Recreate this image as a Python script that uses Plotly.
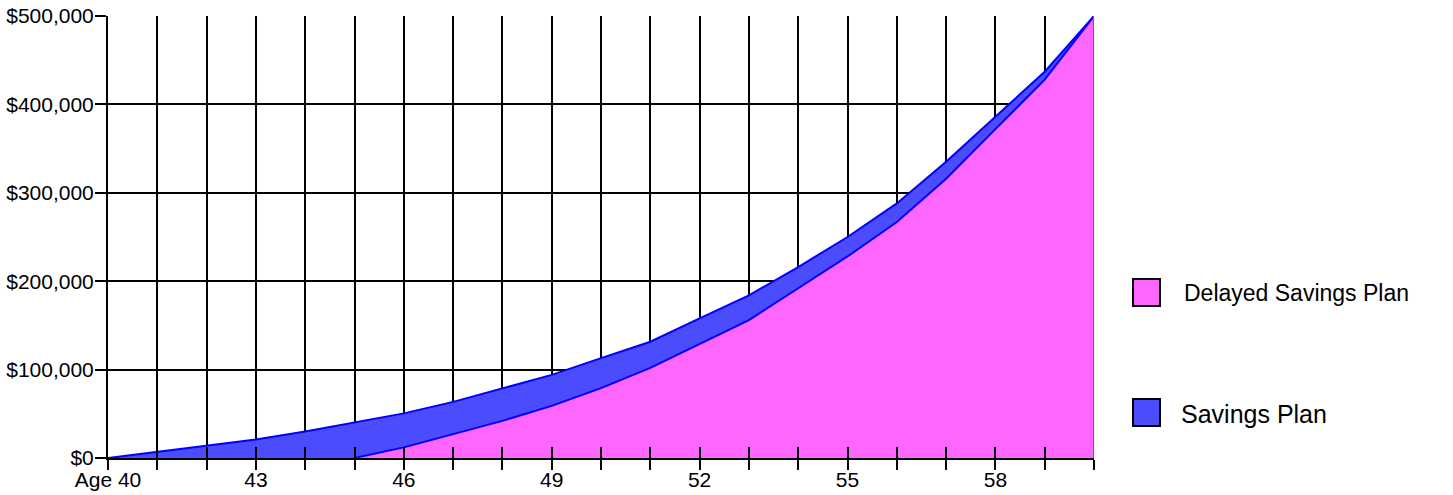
import plotly.graph_objects as go

ages = list(range(40, 61))
savings_plan = [0, 7000, 14500, 21000, 30000, 40000, 50500, 63500, 79000, 94000,
                113000, 131500, 158000, 184000, 216000, 250000, 288000, 335000,
                386000, 437000, 500000]
delayed_plan = [0, 0, 0, 0, 0, 0, 12000, 27000, 42000, 59000,
                79000, 102000, 129000, 156000, 192000, 228000, 267000, 316000,
                372000, 428000, 500000]
tick_ages = ages
tick_labels = ["Age 40" if a == 40 else (str(a) if (a - 40) % 3 == 0 else "") for a in ages]
y_ticks = [0, 100000, 200000, 300000, 400000, 500000]
y_labels = ["$0", "$100,000", "$200,000", "$300,000", "$400,000", "$500,000"]
legend_names = ["Delayed Savings Plan", "Savings Plan"]

PINK = "#FF66FF"
MAGENTA = "#FF00FF"
BLUE_FILL = "#4C4CFF"
BLUE_LINE = "#0000FF"

fig = go.Figure()
fig.add_trace(go.Scatter(x=ages, y=delayed_plan, mode="lines", fill="tozeroy",
                         fillcolor=PINK, line=dict(width=0), showlegend=False, hoverinfo="skip"))
fig.add_trace(go.Scatter(x=ages, y=savings_plan, mode="lines", fill="tonexty",
                         fillcolor=BLUE_FILL, line=dict(color=BLUE_LINE, width=2),
                         showlegend=False))
start = next(i for i, v in enumerate(delayed_plan) if v > 0) - 1
fig.add_trace(go.Scatter(x=ages[start:], y=delayed_plan[start:], mode="lines",
                         line=dict(color=BLUE_LINE, width=2), showlegend=False))
fig.add_trace(go.Scatter(x=[ages[-1], ages[-1]], y=[0, delayed_plan[-1]], mode="lines",
                         line=dict(color=MAGENTA, width=2), showlegend=False, hoverinfo="skip"))

PL, PR, PT, PB = 108, 1094, 16, 458
W, H = 1453, 495
pw, ph = PR - PL, PB - PT

def px(x):
    return (x - PL) / pw

def py(y):
    return (PB - y) / ph

fig.update_layout(
    width=W, height=H,
    margin=dict(l=PL, r=W - PR, t=PT, b=H - PB, autoexpand=False),
    paper_bgcolor="white", plot_bgcolor="white",
    font=dict(family="Liberation Sans, Arial, sans-serif", color="black", size=21),
    xaxis=dict(range=[ages[0], ages[-1]], tickmode="array", tickvals=tick_ages,
               ticktext=tick_labels, showgrid=True, gridcolor="black", gridwidth=2,
               showline=True, linecolor="black", linewidth=2,
               ticks="outside", ticklen=10, tickwidth=2, tickcolor="black",
               zeroline=False, fixedrange=True, automargin=False, ticklabelstandoff=-8),
    xaxis2=dict(range=[ages[0], ages[-1]], overlaying="x", anchor="y", side="bottom",
                tickmode="array", tickvals=tick_ages, showticklabels=False,
                ticks="inside", ticklen=11, tickwidth=2, tickcolor="black",
                showgrid=False, showline=False, zeroline=False, automargin=False),
    yaxis=dict(range=[0, 500000], tickmode="array", tickvals=y_ticks, ticktext=y_labels,
               showgrid=True, gridcolor="black", gridwidth=2,
               showline=True, linecolor="black", linewidth=2,
               ticks="outside", ticklen=11, tickwidth=2, tickcolor="black",
               zeroline=False, fixedrange=True, ticklabelstandoff=-3, automargin=False),
    showlegend=False,
)
fig.add_trace(go.Scatter(x=[ages[0]], y=[0], xaxis="x2", mode="markers",
                         marker=dict(opacity=0), showlegend=False, hoverinfo="skip"))

legend_items = [(legend_names[0], PINK, 279, 306, 293, 1182, 23),
                (legend_names[1], BLUE_FILL, 399, 426, 414, 1179, 25)]
for name, col, y0, y1, yc, tx, fs in legend_items:
    fig.add_shape(type="rect", xref="paper", yref="paper",
                  x0=px(1133), x1=px(1160), y0=py(y1), y1=py(y0),
                  fillcolor=col, line=dict(color="black", width=2))
    fig.add_annotation(xref="paper", yref="paper", x=px(tx), y=py(yc),
                       text=name, showarrow=False, xanchor="left", yanchor="middle",
                       font=dict(size=fs, color="black"))

fig.write_html("out.html", config={"displayModeBar": False},
               post_script="document.body.style.margin='0';document.body.style.overflow='hidden';")
